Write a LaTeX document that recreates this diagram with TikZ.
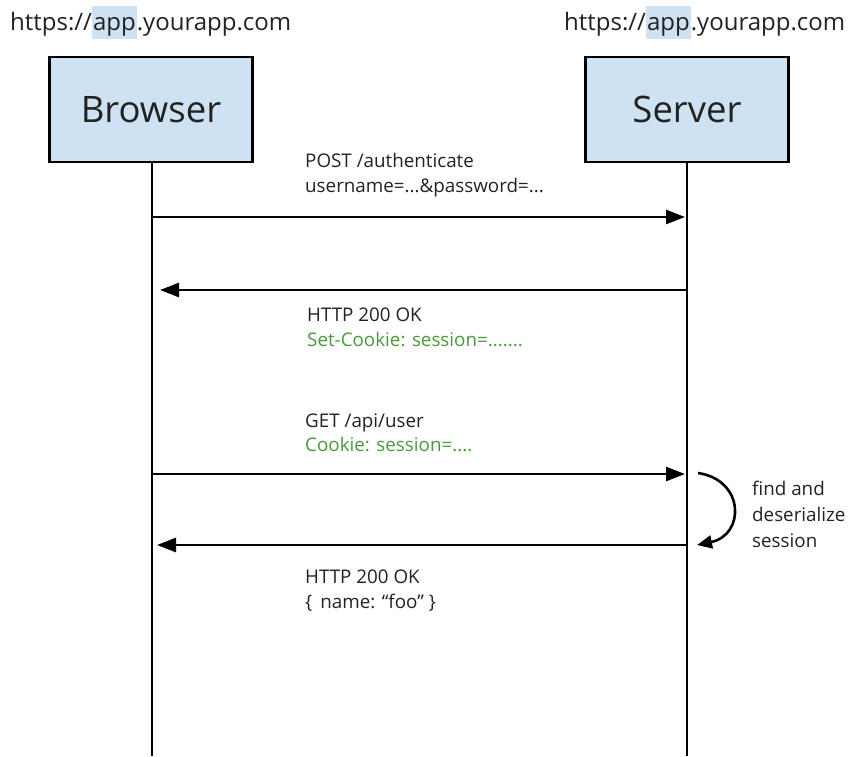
\documentclass[tikz,border=0pt]{standalone}
\usepackage{fontspec}
\setmainfont{Open Sans}
\usetikzlibrary{arrows.meta}
\definecolor{boxfill}{HTML}{CFE2F3}
\definecolor{hilite}{HTML}{CFE2F3}
\definecolor{cookiegreen}{HTML}{4A9A3A}
\definecolor{ink}{HTML}{222222}
\tikzset{
  actor/.style={draw=black, line width=2.2pt, fill=boxfill, minimum width=203pt,
    minimum height=105pt, inner sep=0pt, font=\fontsize{36.5}{40}\selectfont, text=ink},
  lifeline/.style={line width=2.6pt, black},
  msg/.style={line width=2.6pt, -{Triangle[length=19pt,width=14pt]}},
  label/.style={anchor=base west, inner sep=0pt, font=\fontsize{18.8}{22}\selectfont, text=ink},
  greenlabel/.style={label, text=cookiegreen},
  url/.style={anchor=base west, inner sep=0pt, font=\fontsize{24}{26}\selectfont, text=ink}
}
\newcommand{\hl}[1]{{\setlength{\fboxsep}{1pt}\colorbox{hilite}{\rule[-8pt]{0pt}{31pt}#1}}}
\begin{document}
\begin{tikzpicture}[x=1pt, y=-1pt]
  \useasboundingbox (0,0) rectangle (848,756);

  % origin labels
  \node[url] (urlb) at (10,30) {https://\hl{app}.yourapp.com};
  \node[url] (urls) at (564,30) {https://\hl{app}.yourapp.com};

  % actors
  \node[actor] (browser) at (151,109.5) {Browser};
  \node[actor] (server)  at (687,109.5) {Server};

  % lifelines
  \coordinate (bend) at (152,756);
  \coordinate (send) at (687,756);
  \draw[lifeline] (browser.south -| bend) -- (bend);
  \draw[lifeline] (server.south -| send) -- (send);

  % message anchor points on the lifelines
  \coordinate (b1) at (152,217); \coordinate (s1) at (687,217);
  \coordinate (b2) at (152,290); \coordinate (s2) at (687,290);
  \coordinate (b3) at (152,474); \coordinate (s3) at (687,474);
  \coordinate (b4) at (152,545); \coordinate (s4) at (687,545);

  % messages
  \draw[msg, shorten >=2pt] (b1) -- (s1);
  \draw[msg, shorten >=8pt] (s2) -- (b2);
  \draw[msg, shorten >=2pt] (b3) -- (s3);
  \draw[msg, shorten >=5pt] (s4) -- (b4);

  % message labels
  \node[label] (m1a) at (305,167) {POST /authenticate};
  \node[label] (m1b) at (305,192) {username=...\&password=...};
  \node[label] (m2a) at (307,321) {HTTP 200 OK};
  \node[greenlabel] (m2b) at (307,346) {Set-Cookie: session=.......};
  \node[label] (m3a) at (305,427) {GET /api/user};
  \node[greenlabel] (m3b) at (305,451) {Cookie: session=....};
  \node[label] (m4a) at (305,583) {HTTP 200 OK};
  \node[label] (m4b) at (305,608) {\{\, name: “foo” \}};

  % server-side processing
  \coordinate (c1) at (698,473);
  \coordinate (c2) at (697,545);
  \draw[line width=2.6pt, -{Triangle[length=15pt,width=13pt]}]
    (c1) .. controls (745,480) and (745,535) .. (c2);
  \node[label] (p1) at (752,495) {find and};
  \node[label] (p2) at (752,521) {deserialize};
  \node[label] (p3) at (752,547) {session};
\end{tikzpicture}
\end{document}
